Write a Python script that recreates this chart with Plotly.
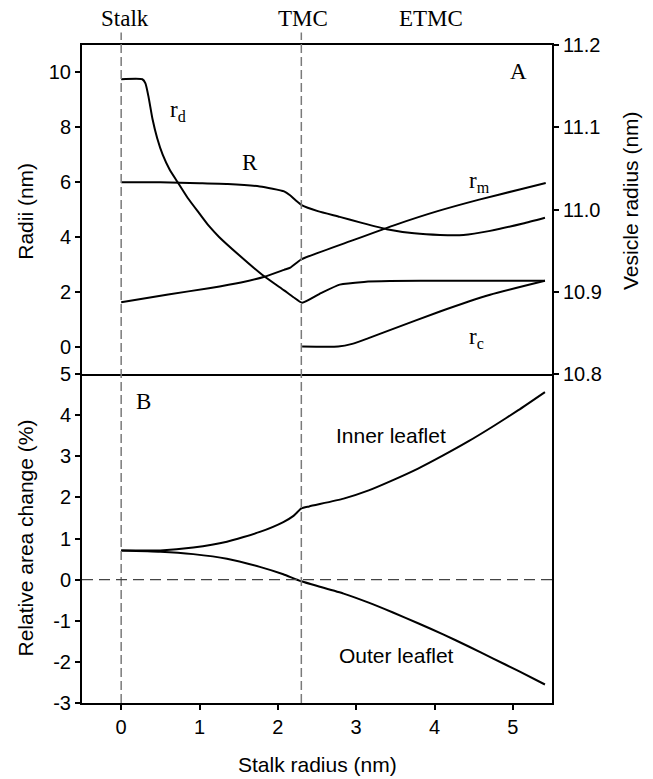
import plotly.graph_objects as go

# ---- Panel A: radii vs. stalk radius ----
rd_x = [0.00, 0.27, 0.31, 0.35, 0.40, 0.46, 0.53, 0.62, 0.72, 0.85, 1.00, 1.12, 1.25, 1.50,
        1.80, 2.08, 2.20, 2.31, 2.55, 2.79, 3.10, 3.43, 4.20, 5.41]
rd_y = [9.75, 9.75, 9.60, 9.10, 8.30, 7.60, 7.00, 6.45, 6.00, 5.42, 4.85, 4.40, 4.00, 3.35,
        2.62, 2.05, 1.80, 1.60, 1.95, 2.26, 2.36, 2.39, 2.40, 2.40]

rm_x = [0.00, 0.60, 1.12, 1.53, 1.83, 2.08, 2.16, 2.30, 2.98, 3.51, 4.04, 4.57, 5.10, 5.42]
rm_y = [1.62, 1.90, 2.13, 2.34, 2.55, 2.80, 2.88, 3.18, 3.90, 4.45, 4.94, 5.36, 5.74, 5.97]

rc_x = [2.31, 2.77, 2.95, 3.15, 3.43, 4.07, 4.71, 5.41]
rc_y = [0.00, 0.00, 0.10, 0.30, 0.60, 1.28, 1.89, 2.40]

# vesicle radius R (right-hand axis)
ves_x = [0.00, 0.50, 1.00, 1.36, 1.77, 2.08, 2.16, 2.23, 2.31, 2.51, 2.79, 3.06, 3.39, 3.74,
         4.07, 4.37, 4.71, 5.13, 5.41]
ves_y = [11.033, 11.033, 11.032, 11.031, 11.028, 11.022, 11.017, 11.011, 11.005, 10.998, 10.991,
         10.984, 10.976, 10.971, 10.969, 10.969, 10.974, 10.983, 10.990]

# ---- Panel B: relative area change of the leaflets ----
inner_x = [0.00, 0.50, 0.92, 1.35, 1.77, 2.07, 2.20, 2.30, 2.40, 2.84, 3.16, 3.47, 3.79, 4.11,
           4.43, 4.75, 5.07, 5.41]
inner_y = [0.71, 0.71, 0.78, 0.92, 1.16, 1.40, 1.55, 1.73, 1.78, 1.97, 2.17, 2.42, 2.70, 3.02,
           3.36, 3.73, 4.12, 4.56]

outer_x = [0.00, 0.50, 0.92, 1.35, 1.77, 2.07, 2.30, 2.84, 3.16, 3.47, 3.79, 4.11, 4.43, 4.75,
           5.07, 5.41]
outer_y = [0.71, 0.68, 0.62, 0.51, 0.31, 0.13, -0.04, -0.34, -0.56, -0.80, -1.06, -1.33, -1.62,
           -1.92, -2.22, -2.55]

x_ticks = [0, 1, 2, 3, 4, 5]
a_left_ticks = [0, 2, 4, 6, 8, 10]
a_right_ticks = [10.8, 10.9, 11.0, 11.1, 11.2]
a_right_text = ["10.8", "10.9", "11.0", "11.1", "11.2"]
b_ticks = [-3, -2, -1, 0, 1, 2, 3, 4, 5]
b_tick_text = ["-3", "-2", "-1", "0", "1", "2", "3", "4", "5"]

stage_x = {"Stalk": 0.0, "TMC": 2.3}

W, H = 653, 779
L, R_, T, B = 81.7, 100.7, 44.5, 76
pw, ph = W - L - R_, H - T - B

SANS = "Liberation Sans, Arial, sans-serif"
SERIF = "Liberation Serif, Times New Roman, serif"


def px_x(px):
    return (px - L) / pw


def px_y(py):
    return (H - B - py) / ph


line = dict(color="black", width=2)
fig = go.Figure()
series = [
    (rd_x, rd_y, "x2", "y", "r_d"),
    (rm_x, rm_y, "x2", "y", "r_m"),
    (rc_x, rc_y, "x2", "y", "r_c"),
    (ves_x, ves_y, "x2", "y2", "R"),
    (inner_x, inner_y, "x", "y3", "Inner leaflet"),
    (outer_x, outer_y, "x", "y3", "Outer leaflet"),
]
for xs, ys, xa, ya, nm in series:
    fig.add_trace(go.Scatter(x=xs, y=ys, xaxis=xa, yaxis=ya, mode="lines", line=line,
                             line_shape="spline", line_smoothing=0.5, name=nm))

tickfont = dict(family=SANS, size=20, color="black")
axis_common = dict(showgrid=False, zeroline=False, showline=True, linecolor="black",
                   linewidth=2, ticks="outside", ticklen=5, tickwidth=1.5, tickcolor="black",
                   tickfont=tickfont)

fig.update_layout(
    width=W, height=H, margin=dict(l=L, r=R_, t=T, b=B),
    paper_bgcolor="white", plot_bgcolor="white", showlegend=False,
    xaxis=dict(domain=[0, 1], anchor="y3", range=[-0.5, 5.5], tickvals=x_ticks, **axis_common),
    xaxis2=dict(domain=[0, 1], anchor="y", matches="x", range=[-0.5, 5.5], showgrid=False,
                zeroline=False, showline=True, mirror=True, linecolor="black", linewidth=2,
                ticks="", showticklabels=False),
    yaxis=dict(domain=[0.5, 1], anchor="x2", range=[-1, 11], tickvals=a_left_ticks,
               **axis_common),
    yaxis2=dict(overlaying="y", anchor="x2", side="right", range=[10.8, 11.2],
                tickvals=a_right_ticks, ticktext=a_right_text, **axis_common),
    yaxis3=dict(domain=[0, 0.5], anchor="x", range=[-3, 5], tickvals=b_ticks,
                ticktext=b_tick_text, mirror=True, **axis_common),
)

# stage markers: dashed verticals running through both panels
shapes = []
for name, xv in stage_x.items():
    shapes.append(dict(type="line", xref="x", yref="paper", x0=xv, x1=xv, y0=0, y1=px_y(32),
                       line=dict(color="#7a7a7a", width=1.5, dash="9px,4px")))
# zero line of panel B
shapes.append(dict(type="line", xref="x", yref="y3", x0=-0.5, x1=5.5, y0=0, y1=0,
                   line=dict(color="#444444", width=1.3, dash="11px,6px")))
fig.update_layout(shapes=shapes)

serif = dict(family=SERIF, size=23, color="black")
sans = dict(family=SANS, size=21, color="black")
ann = []
# stage labels above panel A
for text, px in [("Stalk", 125), ("TMC", 303), ("ETMC", 431)]:
    ann.append(dict(text=text, x=px_x(px), y=px_y(18), xref="paper", yref="paper",
                    showarrow=False, font=serif, xanchor="center", yanchor="middle"))
# curve labels, panel A
for text, xv, yv in [("A", 5.07, 10.05), ("r<sub>d</sub>", 0.72, 8.6), ("R", 1.65, 6.7),
                     ("r<sub>m</sub>", 4.57, 6.0), ("r<sub>c</sub>", 4.54, 0.3)]:
    ann.append(dict(text=text, x=xv, y=yv, xref="x2", yref="y", showarrow=False, font=serif,
                    xanchor="center", yanchor="middle"))
# panel B labels
ann.append(dict(text="B", x=0.28, y=4.32, xref="x", yref="y3", showarrow=False, font=serif,
                xanchor="center", yanchor="middle"))
for text, xv, yv in [("Inner leaflet", 3.45, 3.51), ("Outer leaflet", 3.51, -1.84)]:
    ann.append(dict(text=text, x=xv, y=yv, xref="x", yref="y3", showarrow=False, font=sans,
                    xanchor="center", yanchor="middle"))
# axis titles
titles = [
    ("Radii (nm)", 25, 211, -90),
    ("Relative area change (%)", 25, 538, -90),
    ("Vesicle radius (nm)", 631, 200, -90),
    ("Stalk radius (nm)", 317, 765, 0),
]
for text, px, py, ang in titles:
    ann.append(dict(text=text, x=px_x(px), y=px_y(py), xref="paper", yref="paper",
                    showarrow=False, font=sans, textangle=ang, xanchor="center",
                    yanchor="middle"))
fig.update_layout(annotations=ann)

fig.write_html("out.html")
